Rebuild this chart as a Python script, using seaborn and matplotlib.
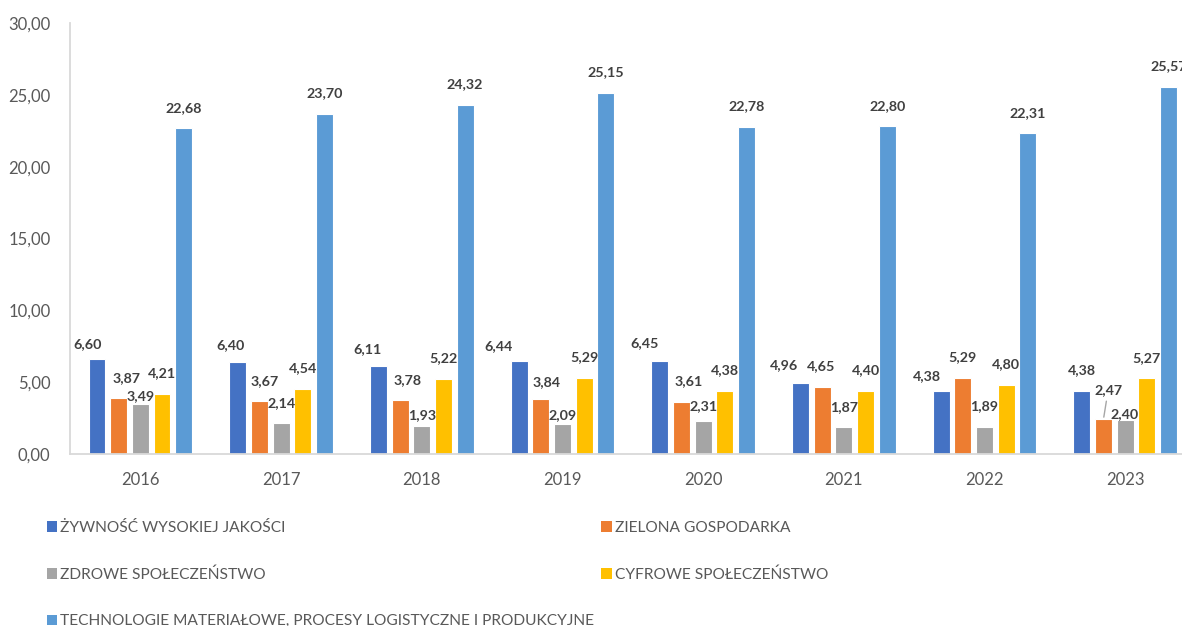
import numpy as np
import pandas as pd
import matplotlib
matplotlib.use("Agg")
import matplotlib.pyplot as plt
import seaborn as sns
from matplotlib.patches import Patch
from matplotlib.ticker import FixedLocator, FuncFormatter

# ---- data -------------------------------------------------------------
years = ["2016", "2017", "2018", "2019", "2020", "2021", "2022", "2023"]
series = [
    "ŻYWNOŚĆ WYSOKIEJ JAKOŚCI",
    "ZIELONA GOSPODARKA",
    "ZDROWE SPOŁECZEŃSTWO",
    "CYFROWE SPOŁECZEŃSTWO",
    "TECHNOLOGIE MATERIAŁOWE, PROCESY LOGISTYCZNE I PRODUKCYJNE",
]
zywnosc = [6.60, 6.40, 6.11, 6.44, 6.45, 4.96, 4.38, 4.38]
zielona = [3.87, 3.67, 3.78, 3.84, 3.61, 4.65, 5.29, 2.47]
zdrowe = [3.49, 2.14, 1.93, 2.09, 2.31, 1.87, 1.89, 2.40]
cyfrowe = [4.21, 4.54, 5.22, 5.29, 4.38, 4.40, 4.80, 5.27]
technologie = [22.68, 23.70, 24.32, 25.15, 22.78, 22.80, 22.31, 25.57]
yticks = [0, 5, 10, 15, 20, 25, 30]

# ---- styling ----------------------------------------------------------
colors = ["#4472C4", "#ED7D31", "#A5A5A5", "#FFC000", "#5B9BD5"]
axis_grey = "#D9D9D9"
text_grey = "#595959"
label_dark = "#404040"

sns.set_style("white")
plt.rcParams["font.family"] = ["Lato", "DejaVu Sans"]

values = [zywnosc, zielona, zdrowe, cyfrowe, technologie]
df = pd.DataFrame(
    [(y, s, v[i]) for s, v in zip(series, values) for i, y in enumerate(years)],
    columns=["Rok", "Obszar", "Wartość"],
)

W, H = 1182, 626
fig = plt.figure(figsize=(W / 100, H / 100), dpi=100)
ax = fig.add_axes([70 / W, 172 / H, 1125.6 / W, 431 / H])

sns.barplot(
    data=df, x="Rok", y="Wartość", hue="Obszar",
    order=years, hue_order=series, palette=colors, saturation=1,
    width=0.77, gap=0.22, errorbar=None,
    edgecolor="white", linewidth=0.8, legend=False, ax=ax,
)

ax.set_xlim(-0.5, len(years) - 0.5)
ax.set_ylim(0, 30)
ax.set_yticks(yticks)
ax.yaxis.set_major_formatter(FuncFormatter(lambda v, _: f"{v:.2f}".replace(".", ",")))
ax.set_xlabel("")
ax.set_ylabel("")

for side in ("top", "right"):
    ax.spines[side].set_visible(False)
for side in ("left", "bottom"):
    ax.spines[side].set_color(axis_grey)
    ax.spines[side].set_linewidth(1.3)

ax.xaxis.set_minor_locator(FixedLocator(np.arange(-0.5, len(years), 1.0)))
ax.tick_params(axis="x", which="major", length=0, pad=13, labelsize=12, labelcolor=text_grey)
ax.tick_params(axis="x", which="minor", length=5, width=1.3, color=axis_grey, direction="out")
ax.tick_params(axis="y", which="major", length=4, width=1.3, color=axis_grey,
               direction="out", pad=10, labelsize=12, labelcolor=text_grey)

# ---- value labels -----------------------------------------------------
# pixel offsets (dx, height of label centre above bar top) for crowded spots
default_shift = (0, 20.5)
shifts = {
    (0, 0): (-9.5, 15), (0, 1): (8, 20), (0, 2): (0, 8),
    (1, 0): (-7.5, 17), (1, 1): (5.5, 20),
    (2, 0): (-10.5, 17), (2, 1): (7.5, 20), (2, 2): (0, 11),
    (3, 0): (-21, 15), (3, 1): (5.5, 17), (3, 2): (0, 9),
    (4, 0): (-15.5, 18), (4, 1): (7.5, 21), (4, 2): (0, 15),
    (5, 0): (-16, 18), (5, 1): (-1, 21),
    (6, 0): (-14, 15),
    (7, 1): (4.5, 28), (7, 2): (-1, 5),
}
leader = {(7, 1)}

for s_idx, container in enumerate(ax.containers):
    for y_idx, bar in enumerate(container):
        val = values[s_idx][y_idx]
        cx = bar.get_x() + bar.get_width() / 2
        dx, dy = shifts.get((y_idx, s_idx), default_shift)
        kw = {}
        if (y_idx, s_idx) in leader:
            kw["arrowprops"] = dict(arrowstyle="-", color="#A6A6A6", lw=1.0,
                                    shrinkA=1, shrinkB=1)
        ax.annotate(
            f"{val:.2f}".replace(".", ","),
            xy=(cx, val), xytext=(dx, dy), textcoords="offset pixels",
            ha="center", va="center", fontsize=10.3, fontweight="bold",
            color=label_dark, annotation_clip=False, **kw,
        )

# ---- legend -----------------------------------------------------------
handles = [Patch(facecolor=c, edgecolor="none", label=s) for c, s in zip(colors, series)]
order = [0, 2, 4, 1, 3]
fig.legend(
    [handles[i] for i in order], [series[i] for i in order],
    ncol=2, loc="upper left", bbox_to_anchor=(47 / W, 1 - 521 / H),
    frameon=False, fontsize=11.2, labelcolor=text_grey,
    handlelength=0.66, handleheight=0.66, handletextpad=0.2,
    labelspacing=2.08, columnspacing=0.45, borderpad=0, borderaxespad=0,
)

fig.savefig("out.png", dpi=100)
